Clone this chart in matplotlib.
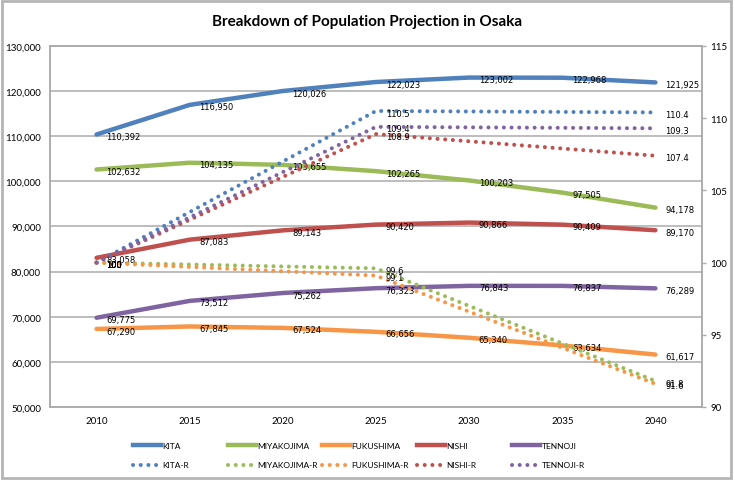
import matplotlib.pyplot as plt
from matplotlib.lines import Line2D
from matplotlib.patches import Rectangle
from matplotlib.ticker import FuncFormatter

# ---------------------------------------------------------------------------------------------------------------------
# data
years = [2010, 2015, 2020, 2025, 2030, 2035, 2040]
years_r = [2010, 2025, 2040]

kita = [110392, 116950, 120026, 122023, 123002, 122968, 121925]
miyakojima = [102632, 104135, 103655, 102265, 100203, 97505, 94178]
fukushima = [67290, 67845, 67524, 66656, 65340, 63634, 61617]
nishi = [83058, 87083, 89143, 90420, 90866, 90409, 89170]
tennoji = [69775, 73512, 75262, 76323, 76843, 76837, 76289]

# index values, 2010 = 100
kita_r = [100, 110.5, 110.4]
miyakojima_r = [100, 99.6, 91.8]
fukushima_r = [100, 99.1, 91.6]
nishi_r = [100, 108.9, 107.4]
tennoji_r = [100, 109.4, 109.3]

names = ['KITA', 'MIYAKOJIMA', 'FUKUSHIMA', 'NISHI', 'TENNOJI']
pops = [kita, miyakojima, fukushima, nishi, tennoji]
ratios = [kita_r, miyakojima_r, fukushima_r, nishi_r, tennoji_r]
colors = ['#4F81BD', '#9BBB59', '#F79646', '#C0504D', '#8064A2']

# ---------------------------------------------------------------------------------------------------------------------
plt.rcParams['font.family'] = ['Lato', 'DejaVu Sans']
grey = '#ABABAB'
dots = (0, (0.01, 1.9))

fig = plt.figure(figsize=(7.35, 4.81), dpi=100)
ax = fig.add_axes([0.068, 0.1518, 0.8871, 0.7505])
ax2 = ax.twinx()

label_kw = dict(textcoords='offset points', xytext=(7, -1.5), ha='left', va='center',
                fontsize=6, family='DejaVu Sans', color='black', zorder=10)

for name, y, c in zip(names, pops, colors):
    ax.plot(years, y, color=c, lw=3.2, solid_capstyle='round', zorder=3)
    for xv, yv in zip(years, y):
        ax.annotate('{:,}'.format(yv), (xv, yv), **label_kw)

for name, y, c in zip(names, ratios, colors):
    ax2.plot(years_r, y, color=c, lw=2.9, linestyle=dots, dash_capstyle='round', zorder=3)
    for xv, yv in zip(years_r, y):
        ax2.annotate('{:g}'.format(yv), (xv, yv), **label_kw)

# left axis
ax.set_xlim(2007.5, 2042.5)
ax.set_ylim(50000, 130000)
ax.set_yticks(range(50000, 130001, 10000))
ax.yaxis.set_major_formatter(FuncFormatter(lambda v, p: '{:,.0f}'.format(v)))
ax.set_xticks(years)
ax.grid(axis='y', color=grey, lw=1.1)
ax.tick_params(axis='both', length=0, labelsize=7, colors='black')
ax.tick_params(axis='y', pad=6.5)
ax.tick_params(axis='x', pad=6.5)

# right axis
ax2.set_ylim(90, 115)
ax2.set_yticks(range(90, 116, 5))
ax2.tick_params(axis='y', direction='out', length=3, width=1, color=grey, labelsize=7, pad=3)

for a in (ax, ax2):
    for s in a.spines.values():
        s.set_color(grey)
        s.set_linewidth(1.1)

fig.suptitle('Breakdown of Population Projection in Osaka', x=0.5, y=0.954, va='center',
             fontsize=11, fontweight='bold')

# legend: one small legend per district so the columns are evenly spaced
col_x = [133, 228, 322, 417, 512]
for name, c, x0 in zip(names, colors, col_x):
    handles = [Line2D([], [], color=c, lw=3.2),
               Line2D([], [], color=c, lw=2.9, linestyle=dots, dash_capstyle='round')]
    fig.legend(handles, [name, name + '-R'], loc='upper left',
               bbox_to_anchor=(x0 / 735, 1 - 443 / 481), frameon=False, fontsize=6,
               handlelength=3.4, handletextpad=0.15, labelspacing=1.5, borderpad=0,
               borderaxespad=0)

# chart border
fig.patches.append(Rectangle((0.003, 0.004), 0.992, 0.992, transform=fig.transFigure,
                             fill=False, edgecolor='#B5B5B5', lw=2))

fig.savefig('out.png', dpi=100)
